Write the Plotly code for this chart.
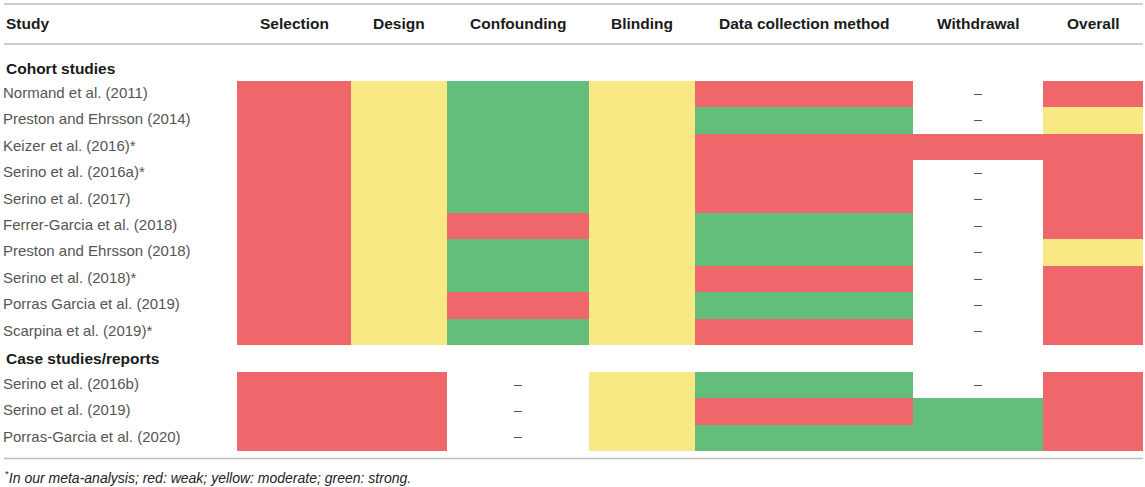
import numpy as np
import plotly.graph_objects as go

# ---------------- data ----------------
columns = ["Selection", "Design", "Confounding", "Blinding",
           "Data collection method", "Withdrawal", "Overall"]

cohort_studies = ["Normand et al. (2011)", "Preston and Ehrsson (2014)",
                  "Keizer et al. (2016)*", "Serino et al. (2016a)*",
                  "Serino et al. (2017)", "Ferrer-Garcia et al. (2018)",
                  "Preston and Ehrsson (2018)", "Serino et al. (2018)*",
                  "Porras Garcia et al. (2019)", "Scarpina et al. (2019)*"]
cohort_ratings = [
    ["weak", "moderate", "strong", "moderate", "weak", None, "weak"],
    ["weak", "moderate", "strong", "moderate", "strong", None, "moderate"],
    ["weak", "moderate", "strong", "moderate", "weak", "weak", "weak"],
    ["weak", "moderate", "strong", "moderate", "weak", None, "weak"],
    ["weak", "moderate", "strong", "moderate", "weak", None, "weak"],
    ["weak", "moderate", "weak", "moderate", "strong", None, "weak"],
    ["weak", "moderate", "strong", "moderate", "strong", None, "moderate"],
    ["weak", "moderate", "strong", "moderate", "weak", None, "weak"],
    ["weak", "moderate", "weak", "moderate", "strong", None, "weak"],
    ["weak", "moderate", "strong", "moderate", "weak", None, "weak"],
]

case_studies = ["Serino et al. (2016b)", "Serino et al. (2019)",
                "Porras-Garcia et al. (2020)"]
case_ratings = [
    ["weak", "weak", None, "moderate", "strong", None, "weak"],
    ["weak", "weak", None, "moderate", "weak", "strong", "weak"],
    ["weak", "weak", None, "moderate", "strong", "strong", "weak"],
]

group_titles = ["Cohort studies", "Case studies/reports"]
footnote = "<sup>*</sup><i>In our meta-analysis; red: weak; yellow: moderate; green: strong.</i>"

# ---------------- layout constants (pixels) ----------------
W, H = 1145, 487
col_edges = [237, 351, 447, 589, 695, 913, 1043, 1143]
cohort_top, cohort_row_h = 81, 26.4
case_top, case_row_h = 372, 26.3
RED, YELLOW, GREEN = "#F0676B", "#F8E985", "#63BE7B"
LABEL_COLOR = "#555555"
HEAD_COLOR = "#1a1a1a"
FONT = "Liberation Sans, Arial, Helvetica, sans-serif"

level = {"weak": 0, "moderate": 1, "strong": 2, None: np.nan}

# build grid: cohort rows, gap row, case rows
rows = cohort_ratings + [[None] * len(columns)] + case_ratings
z = [[level[v] for v in r] for r in rows]
y_edges = [cohort_top + i * cohort_row_h for i in range(len(cohort_studies) + 1)]
y_edges += [case_top + i * case_row_h for i in range(len(case_studies) + 1)]

fig = go.Figure()
fig.add_trace(go.Heatmap(
    x=col_edges, y=y_edges, z=z, zmin=0, zmax=2,
    colorscale=[[0, RED], [0.333, RED], [0.333, YELLOW], [0.667, YELLOW],
                [0.667, GREEN], [1, GREEN]],
    showscale=False, hoverinfo="skip",
))

# dashes for not-applicable cells
dx, dy = [], []
col_centers = [(col_edges[i] + col_edges[i + 1]) / 2 for i in range(len(columns))]
for ratings, top, h in [(cohort_ratings, cohort_top, cohort_row_h),
                        (case_ratings, case_top, case_row_h)]:
    for ri, r in enumerate(ratings):
        for ci, v in enumerate(r):
            if v is None:
                dx.append(col_centers[ci])
                dy.append(top + (ri + 0.5) * h)
fig.add_trace(go.Scatter(
    x=dx, y=dy, mode="text", text=["–"] * len(dx),
    textfont=dict(family=FONT, size=14, color=LABEL_COLOR),
    hoverinfo="skip", showlegend=False,
))

# study labels
lx, ly, lt = [], [], []
for names, top, h in [(cohort_studies, cohort_top, cohort_row_h),
                      (case_studies, case_top, case_row_h)]:
    for i, n in enumerate(names):
        lx.append(3)
        ly.append(top + (i + 0.5) * h)
        lt.append(n)
fig.add_trace(go.Scatter(
    x=lx, y=ly, mode="text", text=lt, textposition="middle right",
    textfont=dict(family=FONT, size=15, color=LABEL_COLOR),
    hoverinfo="skip", showlegend=False,
))

annotations = []
# header
annotations.append(dict(x=4, y=23, text="<b>Study</b>", xanchor="left"))
for c, name in zip(col_centers, columns):
    annotations.append(dict(x=c, y=23, text=f"<b>{name}</b>", xanchor="center"))
# group titles
annotations.append(dict(x=4, y=68, text=f"<b>{group_titles[0]}</b>", xanchor="left"))
annotations.append(dict(x=4, y=358.5, text=f"<b>{group_titles[1]}</b>", xanchor="left"))
for a in annotations:
    a.update(xref="x", yref="y", yanchor="middle", showarrow=False,
             font=dict(family=FONT, size=15.5, color=HEAD_COLOR))
annotations.append(dict(x=3, y=477, xref="x", yref="y", text=footnote,
                        xanchor="left", yanchor="middle", showarrow=False,
                        font=dict(family=FONT, size=14, color="#222222")))

shapes = [dict(type="line", xref="x", yref="y", x0=4, x1=1143, y0=yy, y1=yy,
               line=dict(color="#BDBDBD", width=1.5)) for yy in (4, 44, 458.5)]

fig.update_layout(
    width=W, height=H, margin=dict(l=0, r=0, t=0, b=0),
    paper_bgcolor="white", plot_bgcolor="white",
    xaxis=dict(range=[0, W], visible=False, fixedrange=True),
    yaxis=dict(range=[H, 0], visible=False, fixedrange=True),
    annotations=annotations, shapes=shapes, showlegend=False,
)
fig.write_html(
    "out.html",
    config={"displayModeBar": False},
    post_script="document.body.style.margin='0';document.body.style.overflow='hidden';",
)
